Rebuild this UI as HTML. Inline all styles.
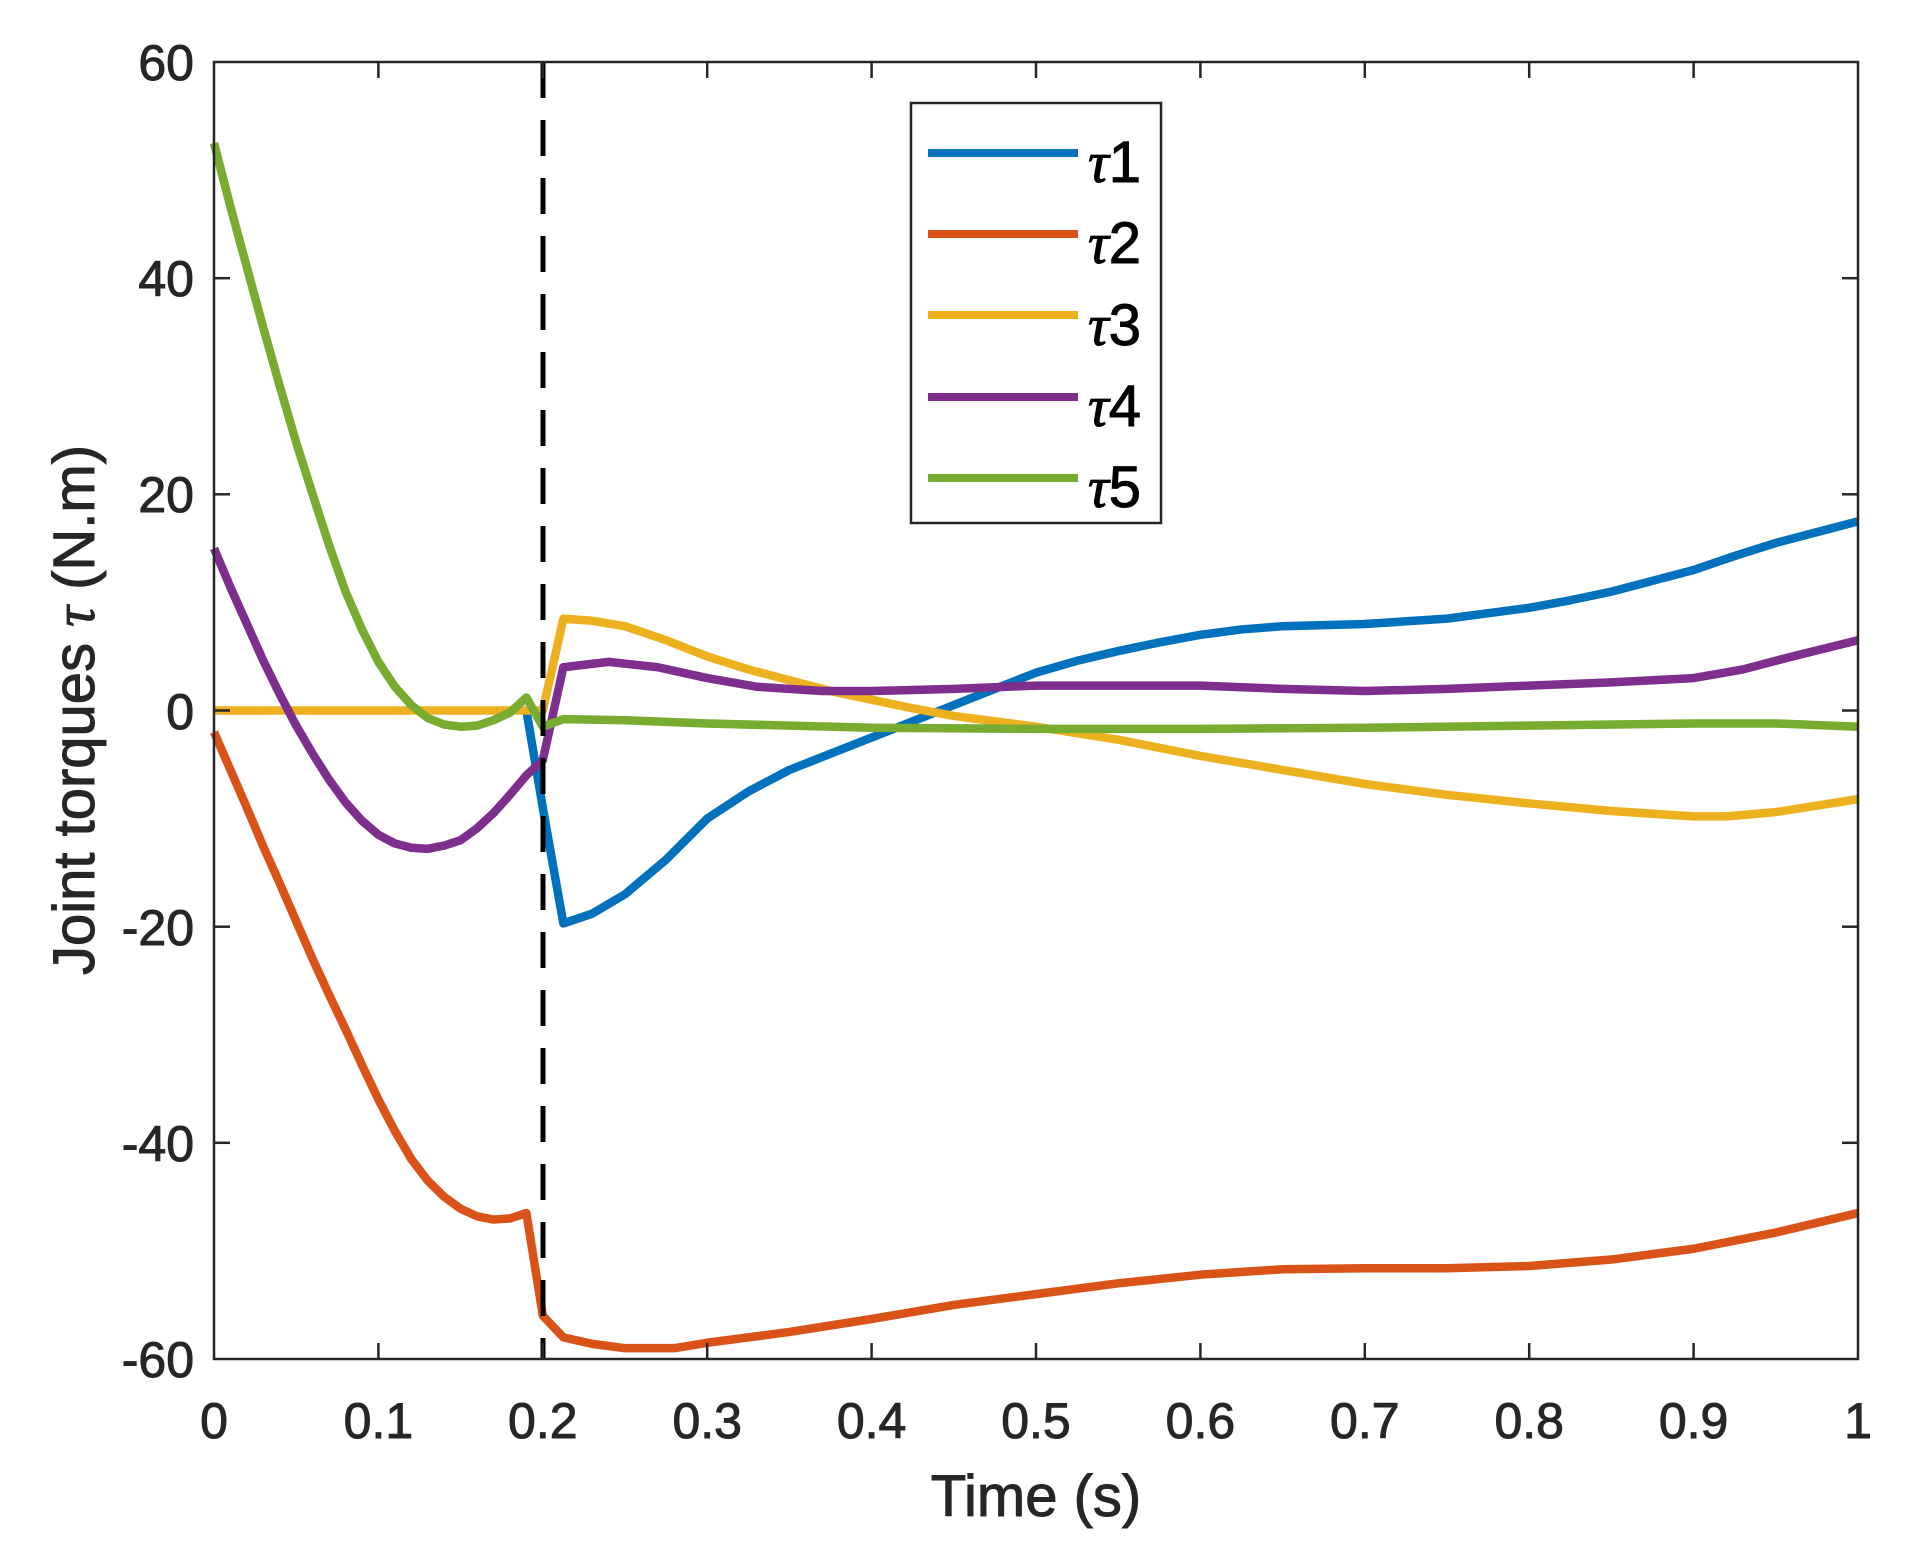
<!DOCTYPE html>
<html><head><meta charset="utf-8"><style>
html,body{margin:0;padding:0;background:#fff;}
svg{display:block;}
text{font-family:"Liberation Sans",Arial,sans-serif;fill:#262626;stroke:#262626;stroke-width:1;}
</style></head><body>
<svg width="1912" height="1552" viewBox="0 0 1912 1552" xmlns="http://www.w3.org/2000/svg">
<rect width="1912" height="1552" fill="#fff"/>
<g fill="none" stroke-width="8.5" stroke-linejoin="round" stroke-linecap="butt" transform="translate(214,710.5) scale(1644,-10.808)">
<polyline vector-effect="non-scaling-stroke" stroke="#D95319" points="0,-2 0.01,-5.5 0.02,-9 0.03,-12.6 0.04,-16 0.05,-19.5 0.06,-23 0.07,-26.3 0.08,-29.5 0.09,-32.8 0.1,-36 0.11,-38.9 0.12,-41.5 0.13,-43.5 0.14,-45 0.15,-46.1 0.16,-46.8 0.17,-47.1 0.18,-47 0.19,-46.5 0.2,-56 0.2125,-58 0.23,-58.6 0.25,-59 0.28,-59 0.3,-58.5 0.35,-57.5 0.4,-56.3 0.45,-55 0.5,-54 0.55,-53 0.6,-52.2 0.65,-51.7 0.7,-51.6 0.75,-51.6 0.8,-51.4 0.85,-50.8 0.9,-49.8 0.95,-48.3 1,-46.5"/>
<polyline vector-effect="non-scaling-stroke" stroke="#0072BD" points="0.19,0 0.2,-9 0.2125,-19.7 0.23,-18.8 0.25,-17 0.275,-13.8 0.3,-10 0.325,-7.5 0.35,-5.5 0.375,-4 0.4,-2.5 0.425,-1 0.45,0.5 0.475,2 0.5,3.5 0.525,4.6 0.55,5.5 0.575,6.3 0.6,7 0.625,7.5 0.65,7.8 0.7,8 0.75,8.5 0.8,9.5 0.825,10.2 0.85,11 0.875,12 0.9,13 0.925,14.3 0.95,15.5 0.975,16.5 1,17.5"/>
<polyline vector-effect="non-scaling-stroke" stroke="#EDB120" points="0,0 0.19,0 0.2,0 0.2125,8.5 0.23,8.3 0.25,7.8 0.275,6.5 0.3,5 0.325,3.8 0.35,2.8 0.375,1.8 0.4,1 0.425,0.2 0.45,-0.5 0.5,-1.5 0.55,-2.7 0.6,-4.2 0.65,-5.5 0.7,-6.8 0.75,-7.8 0.8,-8.6 0.85,-9.3 0.9,-9.8 0.92,-9.8 0.95,-9.4 1,-8.2"/>
<polyline vector-effect="non-scaling-stroke" stroke="#7E2F8E" points="0,15 0.01,11.4 0.02,8 0.03,4.6 0.04,1.5 0.05,-1.4 0.06,-4 0.07,-6.4 0.08,-8.5 0.09,-10.2 0.1,-11.5 0.11,-12.3 0.12,-12.7 0.13,-12.8 0.14,-12.5 0.15,-12 0.16,-10.9 0.17,-9.5 0.18,-7.8 0.19,-6 0.2,-4.6 0.2125,4 0.24,4.5 0.27,4 0.3,3 0.33,2.2 0.37,1.8 0.4,1.8 0.45,2 0.5,2.3 0.6,2.3 0.65,2 0.7,1.8 0.75,2 0.8,2.3 0.85,2.6 0.9,3 0.93,3.8 0.96,5 1,6.5"/>
<polyline vector-effect="non-scaling-stroke" stroke="#77AC30" points="0,52.5 0.01,46.6 0.02,41 0.03,35.4 0.04,30 0.05,24.8 0.06,20 0.07,15.3 0.08,11 0.09,7.5 0.1,4.5 0.11,2.2 0.12,0.5 0.13,-0.7 0.14,-1.3 0.15,-1.5 0.16,-1.4 0.17,-0.9 0.18,-0.2 0.19,1.2 0.2,-1.5 0.2125,-0.8 0.25,-0.9 0.3,-1.2 0.4,-1.6 0.5,-1.7 0.6,-1.7 0.7,-1.6 0.8,-1.4 0.9,-1.2 0.95,-1.2 1,-1.5"/>
</g>
<line x1="543" y1="62" x2="543" y2="1359" stroke="#000" stroke-width="5" stroke-dasharray="36,22"/>
<rect x="214" y="62" width="1644" height="1297" fill="none" stroke="#262626" stroke-width="2.5"/>
<g stroke="#262626" stroke-width="2.5">
<line x1="378.4" y1="1359" x2="378.4" y2="1343"/><line x1="378.4" y1="62" x2="378.4" y2="78"/>
<line x1="542.8" y1="1359" x2="542.8" y2="1343"/><line x1="542.8" y1="62" x2="542.8" y2="78"/>
<line x1="707.2" y1="1359" x2="707.2" y2="1343"/><line x1="707.2" y1="62" x2="707.2" y2="78"/>
<line x1="871.6" y1="1359" x2="871.6" y2="1343"/><line x1="871.6" y1="62" x2="871.6" y2="78"/>
<line x1="1036" y1="1359" x2="1036" y2="1343"/><line x1="1036" y1="62" x2="1036" y2="78"/>
<line x1="1200.4" y1="1359" x2="1200.4" y2="1343"/><line x1="1200.4" y1="62" x2="1200.4" y2="78"/>
<line x1="1364.8" y1="1359" x2="1364.8" y2="1343"/><line x1="1364.8" y1="62" x2="1364.8" y2="78"/>
<line x1="1529.2" y1="1359" x2="1529.2" y2="1343"/><line x1="1529.2" y1="62" x2="1529.2" y2="78"/>
<line x1="1693.6" y1="1359" x2="1693.6" y2="1343"/><line x1="1693.6" y1="62" x2="1693.6" y2="78"/>
<line x1="214" y1="278.2" x2="230" y2="278.2"/><line x1="1858" y1="278.2" x2="1842" y2="278.2"/>
<line x1="214" y1="494.3" x2="230" y2="494.3"/><line x1="1858" y1="494.3" x2="1842" y2="494.3"/>
<line x1="214" y1="710.5" x2="230" y2="710.5"/><line x1="1858" y1="710.5" x2="1842" y2="710.5"/>
<line x1="214" y1="926.7" x2="230" y2="926.7"/><line x1="1858" y1="926.7" x2="1842" y2="926.7"/>
<line x1="214" y1="1142.8" x2="230" y2="1142.8"/><line x1="1858" y1="1142.8" x2="1842" y2="1142.8"/>
</g>
<g font-size="50" text-anchor="end">
<text x="194" y="80">60</text>
<text x="194" y="296">40</text>
<text x="194" y="512">20</text>
<text x="194" y="729">0</text>
<text x="194" y="945">-20</text>
<text x="194" y="1161">-40</text>
<text x="194" y="1377">-60</text>
</g>
<g font-size="50" text-anchor="middle">
<text x="214" y="1438">0</text>
<text x="378.4" y="1438">0.1</text>
<text x="542.8" y="1438">0.2</text>
<text x="707.2" y="1438">0.3</text>
<text x="871.6" y="1438">0.4</text>
<text x="1036" y="1438">0.5</text>
<text x="1200.4" y="1438">0.6</text>
<text x="1364.8" y="1438">0.7</text>
<text x="1529.2" y="1438">0.8</text>
<text x="1693.6" y="1438">0.9</text>
<text x="1858" y="1438">1</text>
</g>
<text x="1036" y="1516" font-size="58" text-anchor="middle">Time (s)</text>
<text transform="translate(94,710) rotate(-90)" font-size="58" text-anchor="middle">Joint torques <tspan font-family="'Liberation Serif',serif" font-style="italic">τ</tspan> (N.m)</text>
<rect x="911" y="103" width="250" height="420" fill="#fff" stroke="#262626" stroke-width="2.5"/>
<g stroke-width="8">
<line x1="928" y1="153" x2="1078" y2="153" stroke="#0072BD"/>
<line x1="928" y1="234" x2="1078" y2="234" stroke="#D95319"/>
<line x1="928" y1="315" x2="1078" y2="315" stroke="#EDB120"/>
<line x1="928" y1="397" x2="1078" y2="397" stroke="#7E2F8E"/>
<line x1="928" y1="478" x2="1078" y2="478" stroke="#77AC30"/>
</g>
<g font-size="58">
<text x="1088" y="182" style="fill:#000;stroke:#000"><tspan font-family="'Liberation Serif',serif" font-style="italic">τ</tspan>1</text>
<text x="1088" y="263" style="fill:#000;stroke:#000"><tspan font-family="'Liberation Serif',serif" font-style="italic">τ</tspan>2</text>
<text x="1088" y="345" style="fill:#000;stroke:#000"><tspan font-family="'Liberation Serif',serif" font-style="italic">τ</tspan>3</text>
<text x="1088" y="426" style="fill:#000;stroke:#000"><tspan font-family="'Liberation Serif',serif" font-style="italic">τ</tspan>4</text>
<text x="1088" y="507" style="fill:#000;stroke:#000"><tspan font-family="'Liberation Serif',serif" font-style="italic">τ</tspan>5</text>
</g>
</svg>
</body></html>
